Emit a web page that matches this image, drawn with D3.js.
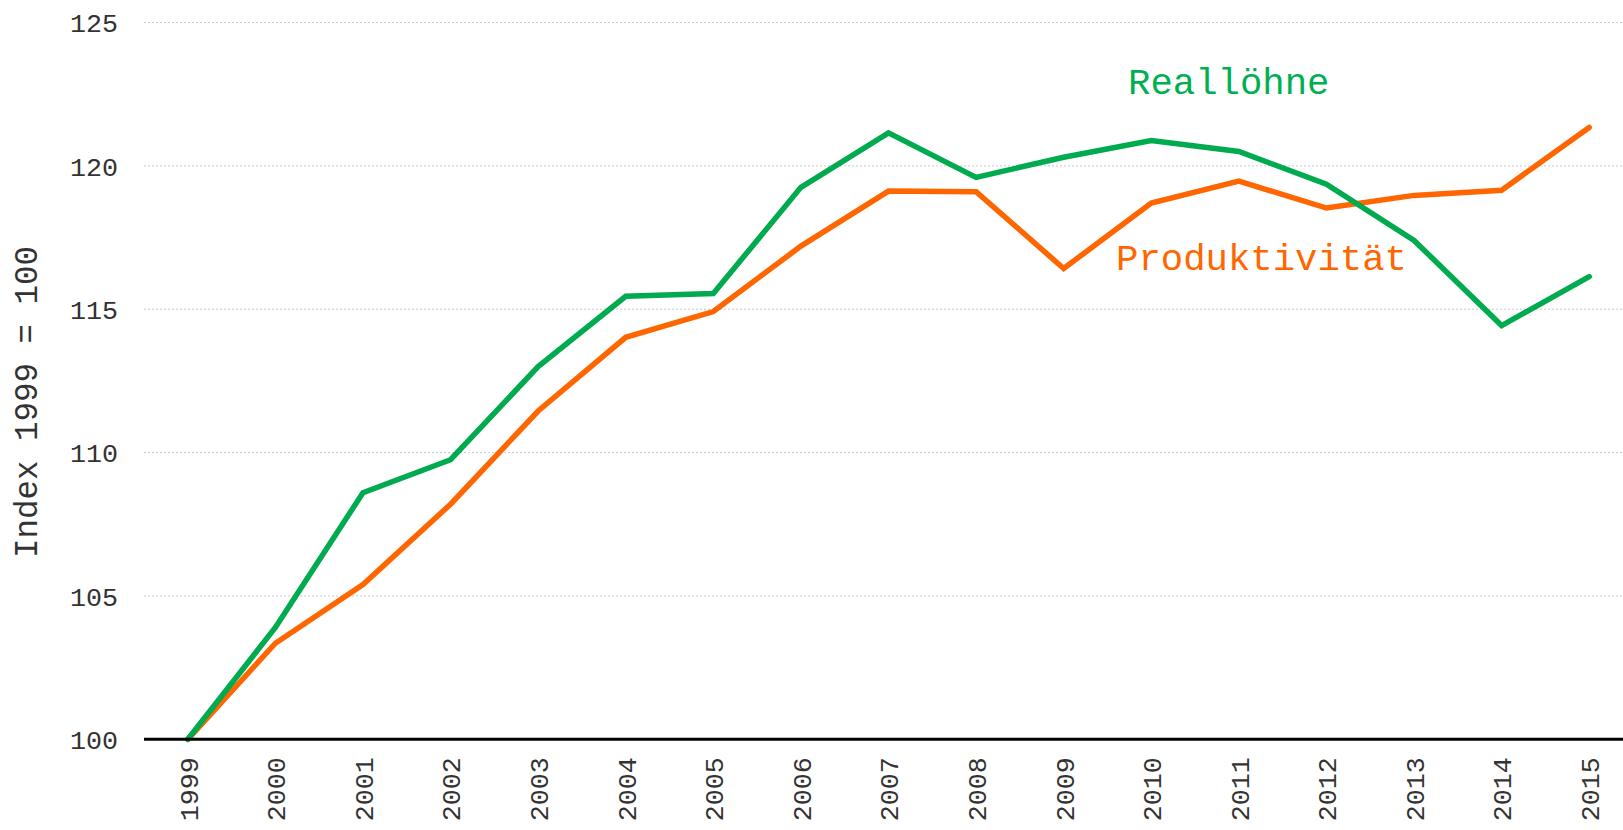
<!DOCTYPE html>
<html>

<head>
	<meta charset="utf-8">
	<title>Reallöhne und Produktivität</title>
	<script src="https://d3js.org/d3.v7.min.js"></script>
	<style>
		body {
			margin: 0;
			padding: 0;
			overflow: hidden;
			background: white;
		}

		text {
			font-family: "Liberation Mono", "Courier New", monospace;
		}

		.tick text {
			font-size: 26.7px;
			fill: #333;
		}
	</style>
</head>

<body>
	<script>
		var years = [1999, 2000, 2001, 2002, 2003, 2004, 2005, 2006, 2007, 2008, 2009, 2010, 2011, 2012, 2013, 2014, 2015];
		var reallohne = [100, 103.9, 108.6, 109.75, 113.0, 115.45, 115.55, 119.25, 121.15, 119.6, 120.3, 120.88, 120.5, 119.36, 117.4, 114.43, 116.14];
		var produktivitat = [100, 103.35, 105.4, 108.2, 111.45, 114.02, 114.92, 117.2, 119.12, 119.1, 116.42, 118.7, 119.47, 118.53, 118.97, 119.15, 121.34];
		var yTicks = [100, 105, 110, 115, 120, 125];

		var width = 1623,
			height = 830;

		var svg = d3.select("body").append("svg")
			.attr("width", width)
			.attr("height", height);

		var x = d3.scalePoint()
			.domain(years)
			.range([144, 1633])
			.padding(0.5);

		var y = d3.scaleLinear()
			.domain([100, 125])
			.range([739.3, 22.5]);

		// gridlines
		svg.append("g").selectAll("line")
			.data(yTicks.filter((d) => d > 100))
			.enter().append("line")
			.attr("x1", 144)
			.attr("x2", width)
			.attr("y1", (d) => y(d))
			.attr("y2", (d) => y(d))
			.style("stroke", "#c8c8c8")
			.style("stroke-width", 1)
			.style("stroke-dasharray", "2,2");

		// y axis labels
		var yAxis = svg.append("g")
			.attr("transform", "translate(118,0)")
			.call(d3.axisLeft(y).tickValues(yTicks).tickSize(0).tickPadding(0));
		yAxis.select(".domain").remove();
		yAxis.selectAll(".tick text").attr("dy", "0.35em");

		// x axis labels
		var xAxis = svg.append("g")
			.attr("transform", "translate(0," + y(100) + ")")
			.call(d3.axisBottom(x).tickSize(0).tickPadding(0));
		xAxis.select(".domain").remove();
		xAxis.selectAll(".tick text")
			.attr("transform", "rotate(-90)")
			.attr("text-anchor", "end")
			.attr("x", -18)
			.attr("y", 0)
			.attr("dy", "0.35em");

		var line = d3.line()
			.x((d, i) => x(years[i]))
			.y((d) => y(d));

		svg.append("path")
			.datum(produktivitat)
			.attr("d", line)
			.style("fill", "none")
			.style("stroke", "#ff6600")
			.style("stroke-width", 5.5)
			.style("stroke-linecap", "round");

		svg.append("path")
			.datum(reallohne)
			.attr("d", line)
			.style("fill", "none")
			.style("stroke", "#00aa4f")
			.style("stroke-width", 5.5)
			.style("stroke-linecap", "round");

		// baseline
		svg.append("line")
			.attr("x1", 144)
			.attr("x2", width)
			.attr("y1", y(100))
			.attr("y2", y(100))
			.style("stroke", "#000")
			.style("stroke-width", 3);

		// series labels
		svg.append("text")
			.attr("x", 1128)
			.attr("y", 94)
			.style("font-size", "37.3px")
			.style("fill", "#00b050")
			.text("Reallöhne");

		svg.append("text")
			.attr("x", 1116)
			.attr("y", 270)
			.style("font-size", "37.3px")
			.style("fill", "#ff6600")
			.text("Produktivität");

		// y axis title
		svg.append("text")
			.attr("transform", "translate(37,402) rotate(-90)")
			.attr("text-anchor", "middle")
			.style("font-size", "32.5px")
			.style("fill", "#333")
			.text("Index 1999 = 100");
	</script>
</body>

</html>
